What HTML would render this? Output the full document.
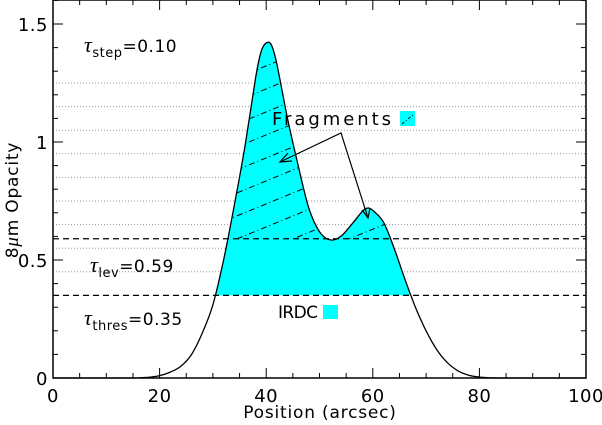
<!DOCTYPE html>
<html><head><meta charset="utf-8"><style>
body{margin:0;background:#fff}
svg{display:block;font-family:"DejaVu Sans","Liberation Sans",sans-serif}
</style></head><body>
<svg id="chart" width="602" height="425" viewBox="0 0 602 425" xmlns="http://www.w3.org/2000/svg">
<defs>
<clipPath id="frag"><rect x="0" y="0" width="602" height="239"/></clipPath>
<clipPath id="under"><path id="underPath" d=""/></clipPath>
</defs>
<g id="grid"></g>
<g id="fills"></g>
<g id="lines"></g>
<g id="axes"></g>
<text x="84" y="52" font-size="17" letter-spacing="0.5"><tspan font-family="Liberation Serif" font-style="italic" font-size="22">τ</tspan><tspan font-size="13" dy="5">step</tspan><tspan dy="-5">=0.10</tspan></text>
<text x="90" y="272" font-size="17" letter-spacing="0.5"><tspan font-family="Liberation Serif" font-style="italic" font-size="22">τ</tspan><tspan font-size="13" dy="5">lev</tspan><tspan dy="-5">=0.59</tspan></text>
<text x="84" y="325" font-size="17" letter-spacing="0.5"><tspan font-family="Liberation Serif" font-style="italic" font-size="22">τ</tspan><tspan font-size="13" dy="5">thres</tspan><tspan dy="-5">=0.35</tspan></text>
<text x="272" y="125" font-size="18" textLength="119" lengthAdjust="spacing">Fragments</text>
<rect x="400" y="111" width="15" height="15" fill="#00ffff"/>
<line x1="402" y1="124" x2="414" y2="114" stroke="#000" stroke-width="1" stroke-dasharray="3,2,1,2"/>
<text x="278" y="318" font-size="17" textLength="40" lengthAdjust="spacing">IRDC</text>
<rect x="323" y="305" width="15" height="14" fill="#00ffff"/>
<g stroke="#000" stroke-width="1.2" fill="none">
<polyline points="280,162 341,133 368,218"/>
<polyline points="288,153 280,162 292,161"/>
<polyline points="362,210 368,218 370,208"/>
</g>
<text x="320" y="418" font-size="17" text-anchor="middle" letter-spacing="0.8">Position  (arcsec)</text>
<text transform="translate(18,200) rotate(-90)" font-size="17" text-anchor="middle" letter-spacing="0.8">8<tspan font-family="Liberation Serif" font-style="italic" font-size="19">μ</tspan>m  Opacity</text>
</svg>
<script>
const posX=[0,14,16,18,20,22,24,26,28,30,32,34,36,38,39,40,41,42,44,46,48,50,52,54,56,58,59,60,62,64,66,68,70,72,74,76,78,80,82,84,86,100];
const opacity=[0,0,0.001,0.003,0.01,0.025,0.05,0.1,0.19,0.31,0.5,0.73,0.98,1.27,1.38,1.42,1.41,1.33,1.1,0.9,0.72,0.62,0.585,0.6,0.65,0.705,0.72,0.71,0.66,0.55,0.42,0.3,0.2,0.12,0.065,0.03,0.012,0.004,0.001,0,0,0];
const tauThres=0.35, tauLev=0.59, tauStep=0.10;
const xTicks=[0,20,40,60,80,100];
const yTicks=[0,0.5,1,1.5];
const yTickLabels=["0","0.5","1","1.5"];
const X=v=>53+v*5.33, Y=v=>378-v*236;
const NS="http://www.w3.org/2000/svg";
function mk(tag,attrs,parent){const e=document.createElementNS(NS,tag);for(const k in attrs)e.setAttribute(k,attrs[k]);parent.appendChild(e);return e;}
const grid=document.getElementById('grid'),fills=document.getElementById('fills'),lines=document.getElementById('lines'),axes=document.getElementById('axes');
for(let k=0;k<9;k++){const v=0.45+k*tauStep;const l=mk('line',{x1:X(0),x2:X(100),y1:Y(v),y2:Y(v),stroke:'#999','stroke-width':1,'stroke-dasharray':'1,2'},grid);

}
const P=posX.map((x,i)=>[X(x),Y(opacity[i])]);
let curveD='M'+P[0][0].toFixed(1)+','+P[0][1].toFixed(1);
for(let i=0;i<P.length-1;i++){const p0=P[Math.max(0,i-1)],p1=P[i],p2=P[i+1],p3=P[Math.min(P.length-1,i+2)];
const c1=[p1[0]+(p2[0]-p0[0])/6,p1[1]+(p2[1]-p0[1])/6],c2=[p2[0]-(p3[0]-p1[0])/6,p2[1]-(p3[1]-p1[1])/6];
curveD+=` C${c1[0].toFixed(1)},${c1[1].toFixed(1)} ${c2[0].toFixed(1)},${c2[1].toFixed(1)} ${p2[0].toFixed(1)},${p2[1].toFixed(1)}`;}
document.getElementById('underPath').setAttribute('d',curveD+' L'+X(100)+','+Y(0)+' L'+X(0)+','+Y(0)+'Z');
const g=mk('g',{'clip-path':'url(#under)'},fills);
const irdc=mk('rect',{x:X(0),y:0,width:X(100)-X(0),height:Y(tauThres),fill:'#00ffff'},g);


document.querySelector('#frag rect').setAttribute('height',Y(tauLev));
const hg=mk('g',{'clip-path':'url(#frag)'},g);
for(let k=-2;k<20;k++){const y0=Y(tauLev)-k*23+10;const h=mk('line',{x1:X(30),y1:y0,x2:X(75),y2:y0-0.41*(X(75)-X(30)),stroke:'#000','stroke-width':1,'stroke-dasharray':'6,3,1,3'},hg);

}
const c=mk('path',{d:curveD,fill:'none',stroke:'#000','stroke-width':1.3},lines);


[tauLev,tauThres].forEach(v=>{const l=mk('line',{x1:X(0),x2:X(100),y1:Y(v),y2:Y(v),stroke:'#000','stroke-width':1.3,'stroke-dasharray':'6,4'},lines);

});
const fr=mk('rect',{x:X(0),y:0,width:X(100)-X(0),height:Y(0),fill:'none',stroke:'#000','stroke-width':1.5},axes);


for(let v=0;v<=100;v+=5){const L=v%20===0?10:5;mk('line',{x1:X(v),x2:X(v),y1:Y(0),y2:Y(0)-L,stroke:'#000'},axes);mk('line',{x1:X(v),x2:X(v),y1:0,y2:L,stroke:'#000'},axes);}
for(let k=0;k<=16;k++){const v=k/10;const L=k%5===0?10:5;mk('line',{x1:X(0),x2:X(0)+L,y1:Y(v),y2:Y(v),stroke:'#000'},axes);mk('line',{x1:X(100),x2:X(100)-L,y1:Y(v),y2:Y(v),stroke:'#000'},axes);}
xTicks.forEach(v=>{const t=mk('text',{x:X(v),y:402,'font-size':18,'text-anchor':'middle','letter-spacing':'0.5'},axes);t.textContent=v;

});
yTicks.forEach((v,i)=>{const t=mk('text',{x:48,y:Y(v)+7,'font-size':18,'text-anchor':'end','letter-spacing':'0.5'},axes);t.textContent=yTickLabels[i];

});
</script>
</body></html>
